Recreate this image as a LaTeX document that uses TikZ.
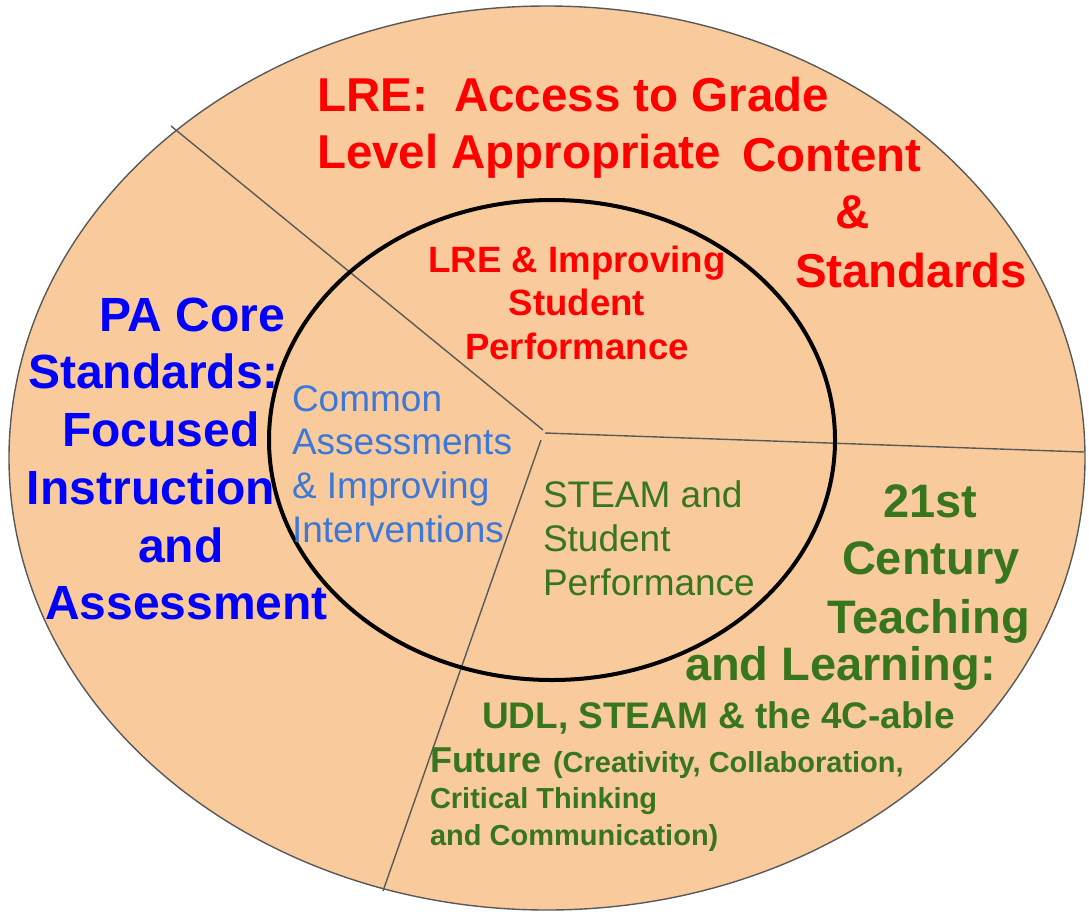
\documentclass[tikz,border=0pt]{standalone}
\usepackage{fontspec}
\setmainfont{Liberation Sans}
\definecolor{peach}{HTML}{F9CB9C}
\definecolor{rim}{HTML}{595959}
\definecolor{lred}{HTML}{FF0000}
\definecolor{lblue}{HTML}{0000FF}
\definecolor{sblue}{HTML}{3C78D8}
\definecolor{dgreen}{HTML}{38761D}
\begin{document}
\begin{tikzpicture}[x=1pt,y=-1pt,
  txt/.style={anchor=base west,inner sep=0pt,outer sep=0pt},
  bigred/.style={txt,text=lred,font=\fontsize{47.5}{57}\selectfont\bfseries},
  bigblue/.style={txt,text=lblue,font=\fontsize{48}{58}\selectfont\bfseries},
  biggreen/.style={txt,text=dgreen,font=\fontsize{47}{57}\selectfont\bfseries},
  midred/.style={anchor=base,inner sep=0pt,text=lred,font=\fontsize{36.6}{44}\selectfont\bfseries},
  midblue/.style={txt,text=sblue,font=\fontsize{37}{44}\selectfont},
  midgreen/.style={txt,text=dgreen,font=\fontsize{37}{44}\selectfont},
  divider/.style={draw=rim,line width=1.4pt}]
\useasboundingbox (0,0) rectangle (1089,911);
% outer ellipse
\draw[fill=peach,draw=rim,line width=1.4pt] (547,458) ellipse [x radius=538, y radius=452];
% dividers
\coordinate (c1) at (543,430);
\coordinate (c2) at (545,433);
\coordinate (c3) at (541,440);
\coordinate (e1) at (171,126);
\coordinate (e2) at (1084,452);
\coordinate (e3) at (383,891);
\draw[divider] (e1) -- (c1);
\draw[divider] (c2) -- (e2);
\draw[divider] (c3) -- (e3);
% inner circle
\draw[black,line width=4pt] (552,440) ellipse [x radius=283, y radius=240];
% top red
\node[bigred] (r1) at (317,111) {LRE:\ \ Access to Grade};
\node[bigred] (r2) at (317,168) {Level Appropriate};
\node[bigred] (r3) at (742,171) {Content};
\node[bigred] (r4) at (835,228) {\&};
\node[bigred] (r5) at (795,287) {Standards};
% inner red
\node[midred] (ir1) at (577,272) {LRE \& Improving};
\node[midred] (ir2) at (577,315) {Student};
\node[midred] (ir3) at (577,359) {Performance};
% left blue
\node[bigblue] (b1) at (99,331) {PA Core};
\node[bigblue] (b2) at (28,388) {Standards:};
\node[bigblue] (b3) at (62,446) {Focused};
\node[bigblue] (b4) at (27,504) {Instruction};
\node[bigblue] (b5) at (138,562) {and};
\node[bigblue] (b6) at (45,619) {Assessment};
% inner blue
\node[midblue] (ib1) at (292,411) {Common};
\node[midblue] (ib2) at (292,454) {Assessments};
\node[midblue] (ib3) at (292,498) {\& Improving};
\node[midblue] (ib4) at (292,542) {Interventions};
% inner green
\node[midgreen] (ig1) at (543,507) {STEAM and};
\node[midgreen] (ig2) at (543,551) {Student};
\node[midgreen] (ig3) at (543,595) {Performance};
% outer green
\node[biggreen] (g1) at (883,517) {21st};
\node[biggreen] (g2) at (842,574) {Century};
\node[biggreen] (g3) at (827,633) {Teaching};
\node[biggreen] (g4) at (685,680) {and Learning:};
\node[txt,text=dgreen,font=\fontsize{37}{44}\selectfont\bfseries] (g5) at (482,728) {UDL, STEAM \& the 4C-able};
\node[txt,text=dgreen,font=\fontsize{36}{44}\selectfont\bfseries] (g6) at (430,772) {Future};
\node[txt,text=dgreen,font=\fontsize{29}{35}\selectfont\bfseries] (g7) at (553,772) {(Creativity, Collaboration,};
\node[txt,text=dgreen,font=\fontsize{29}{35}\selectfont\bfseries] (g8) at (430,808) {Critical Thinking};
\node[txt,text=dgreen,font=\fontsize{29}{35}\selectfont\bfseries] (g9) at (430,845) {and Communication)};
\end{tikzpicture}
\end{document}
